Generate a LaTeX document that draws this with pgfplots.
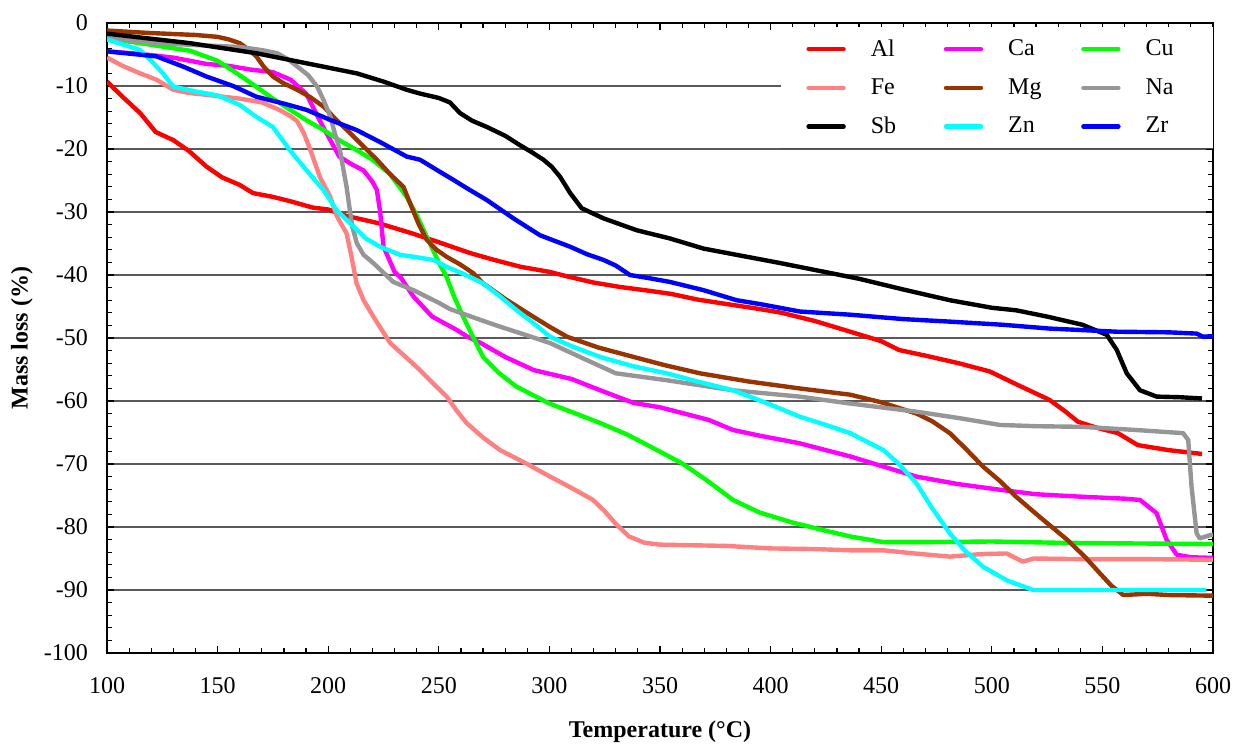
\documentclass[border=0pt]{standalone}
\usepackage{pgfplots}
\pgfplotsset{compat=1.18}
\usepackage{fontspec}
\setmainfont{Liberation Serif}
\definecolor{cAl}{RGB}{255,0,0}
\definecolor{cFe}{RGB}{255,128,128}
\definecolor{cSb}{RGB}{0,0,0}
\definecolor{cCa}{RGB}{255,0,255}
\definecolor{cMg}{RGB}{153,51,0}
\definecolor{cZn}{RGB}{0,255,255}
\definecolor{cCu}{RGB}{0,255,0}
\definecolor{cNa}{RGB}{150,150,150}
\definecolor{cZr}{RGB}{0,0,255}
\newcommand{\tf}{\fontsize{12}{14}\selectfont}
\newcommand{\legent}[2]{\hspace*{12.5pt}\makebox[#1][l]{#2}}
\begin{document}
\begin{tikzpicture}
\begin{axis}[
  at={(0,0)}, anchor=south west,
  width=553pt, height=315pt, scale only axis,
  xmin=100, xmax=600, ymin=-100, ymax=0,
  xtick={100,150,...,600}, ytick={-100,-90,...,0},
  xticklabels={{\tf 100},{\tf 150},{\tf 200},{\tf 250},{\tf 300},{\tf 350},{\tf 400},{\tf 450},{\tf 500},{\tf 550},{\tf 600}},
  yticklabels={{\tf -100},{\tf -90},{\tf -80},{\tf -70},{\tf -60},{\tf -50},{\tf -40},{\tf -30},{\tf -20},{\tf -10},{\tf 0}},
  minor x tick num=4, minor y tick num=4,
  tick align=inside,
  major tick length=3.5pt, minor tick length=2.5pt,
  every tick/.style={black, line width=0.6pt},
  ymajorgrids,
  major grid style={black!65, line width=0.7pt},
  axis line style={line width=0.8pt},
  xticklabel style={yshift=-8.5pt},
  yticklabel style={xshift=-6pt},
  xlabel={\tf\bfseries Temperature (°C)},
  ylabel={\tf\bfseries Mass loss (\%)},
  every axis x label/.style={at={(axis description cs:0.5,-0.125)}, anchor=center},
  every axis y label/.style={at={(axis description cs:-0.077,0.5)}, rotate=90, anchor=center},
  legend columns=3,
  legend cell align=left,
  legend image code/.code={\draw[#1, line cap=round] (0pt,0pt) -- (17.5pt,0pt);},
  legend style={at={(1,1)}, anchor=north east, yshift=-2pt, draw=none, fill=white,
    font=\tf, inner xsep=12.5pt, inner ysep=6pt,
    nodes={inner sep=0pt},
    row sep=9.75pt, column sep=0pt,
    append after command={(\tikzlastnode.south west) edge[draw=black!70, line width=0.6pt] (\tikzlastnode.south east)}},
  every axis plot/.append style={line width=2.2pt, line join=round},
]
\addplot[cAl] coordinates {
(100,-9.3)(107,-11.7)(115,-14.3)(122,-17.3)(130,-18.6)(137,-20.3)(145,-22.8)(152,-24.5)(160,-25.7)(166,-27.0)(175,-27.6)(183,-28.3)(193,-29.3)(200,-29.6)(208,-30.6)(223,-31.8)(238,-33.4)(250,-34.8)(264,-36.5)(275,-37.6)(287,-38.7)(300,-39.5)(309,-40.3)(320,-41.2)(332,-41.9)(345,-42.5)(355,-43.0)(367,-43.9)(380,-44.6)(395,-45.4)(405,-46.0)(420,-47.3)(436,-49.0)(450,-50.5)(458,-51.9)(470,-52.8)(485,-54.0)(499,-55.3)(512,-57.5)(526,-59.8)(533,-61.6)(539,-63.3)(548,-64.3)(557,-65.1)(566,-67.0)(580,-67.8)(590,-68.2)(595,-68.4)};
\addlegendentry{\legent{36.5pt}{Al}}
\addplot[cCa] coordinates {
(100,-4.5)(115,-4.9)(130,-5.5)(145,-6.5)(155,-6.8)(165,-7.4)(175,-7.8)(183,-9.0)(190,-11.2)(197.7,-16.5)(205,-21.2)(211,-22.5)(216,-23.4)(220,-25.2)(222,-26.5)(223.5,-30)(225,-35.5)(230,-39.5)(233,-40.5)(238.5,-43.4)(247,-46.6)(258,-48.7)(263,-49.8)(269,-50.8)(280,-53)(293,-55.1)(310,-56.5)(323,-58.3)(338,-60.3)(350,-61)(360,-61.9)(372,-63)(383,-64.6)(395,-65.5)(413,-66.7)(425,-67.8)(436,-68.8)(450,-70.3)(466,-72)(485,-73.2)(504,-74.1)(520,-74.8)(541,-75.2)(560,-75.5)(567,-75.7)(574.5,-77.8)(579,-82)(583.6,-84.4)(590,-84.8)(600,-84.9)};
\addlegendentry{\legent{36.5pt}{Ca}}
\addplot[cCu] coordinates {
(100,-2.5)(115,-3.2)(130,-4)(137.5,-4.4)(150,-6)(160,-8.3)(167,-10)(175,-12)(182,-13.6)(190,-15.4)(198,-17)(205,-18.6)(213,-20.2)(220,-21.7)(228,-24)(235.5,-27.6)(240,-30.5)(244.5,-33.9)(250,-38)(253.5,-40.3)(257,-43.5)(261,-46.6)(265,-49.5)(270,-53)(277,-55.5)(285,-57.7)(300,-60.4)(312,-62)(323,-63.5)(335,-65.3)(346,-67.3)(360,-69.9)(372,-72.8)(383,-75.7)(395,-77.7)(410,-79.3)(425,-80.6)(436,-81.5)(451,-82.4)(470,-82.4)(500,-82.3)(530,-82.5)(560,-82.6)(600,-82.7)};
\addlegendentry{\legent{21pt}{Cu}}
\addplot[cFe] coordinates {
(100,-5.5)(107,-6.8)(115,-8)(122.4,-9)(130,-10.6)(137,-11.1)(145,-11.4)(160,-12)(170,-12.6)(178,-13.8)(183,-14.8)(186,-15.6)(189,-17.5)(192,-20.2)(196.3,-24.5)(200.8,-27.5)(204,-30.7)(208.3,-33.4)(210.5,-37)(212.8,-41.3)(216,-44)(220.4,-46.6)(228,-50.8)(235,-53)(241.5,-55.1)(247.4,-57.2)(253.6,-59.3)(258,-61.5)(262.6,-63.5)(270,-65.8)(277.7,-67.8)(290,-70)(300.3,-72)(310,-73.8)(319.7,-75.7)(325,-77.5)(330,-79.5)(336,-81.5)(343,-82.5)(350,-82.8)(380,-83)(400,-83.4)(420,-83.5)(436,-83.7)(451,-83.7)(465,-84.2)(481,-84.7)(495,-84.3)(506.7,-84.2)(514,-85.5)(519,-85)(540,-85.1)(570,-85.1)(600,-85.2)};
\addlegendentry{\legent{36.5pt}{Fe}}
\addplot[cMg] coordinates {
(100,-1.2)(120,-1.6)(140,-1.9)(150,-2.2)(155,-2.6)(160,-3.2)(164,-4.2)(167.5,-5.3)(171,-7)(175,-8.5)(180,-9.6)(186,-10.6)(192,-11.8)(198,-13.3)(204,-15.5)(210,-17.5)(216,-19.6)(222,-21.7)(228,-24)(234,-26)(237,-28.6)(241,-32)(244.5,-34.4)(249,-36)(253.5,-37.1)(260,-38.4)(265.5,-39.7)(270,-41.3)(280,-43.8)(292.6,-46.6)(300,-48.2)(308,-49.8)(322,-51.5)(338,-53)(352,-54.3)(368,-55.6)(390,-56.9)(413,-58)(436,-59)(450,-60.2)(466,-62)(473,-63.2)(481,-65.1)(488,-67.5)(496,-70.4)(504,-72.8)(511,-75.2)(522,-78.5)(534,-82)(542,-84.7)(549,-87.4)(554,-89.3)(559.5,-90.8)(570,-90.6)(580,-90.8)(600,-90.9)};
\addlegendentry{\legent{36.5pt}{Mg}}
\addplot[cNa] coordinates {
(100,-2.4)(122,-3.2)(140,-3.5)(160,-3.8)(170,-4.3)(177,-4.8)(182,-5.8)(186,-6.9)(191,-8.3)(195,-10.1)(198,-12.3)(201,-14.9)(203,-17.5)(205.3,-20.2)(207,-23.5)(208.3,-26)(209.9,-30)(211,-32.5)(213,-35)(216,-36.8)(220.4,-38.1)(229.4,-41.1)(238.5,-42.4)(250.5,-44.5)(255,-45.4)(268.6,-47.1)(277.7,-48.2)(290,-49.6)(300.3,-50.8)(315,-53.2)(330,-55.6)(353,-56.7)(383,-58.3)(413,-59.3)(436,-60.4)(466,-61.7)(485,-62.7)(503.7,-63.8)(520,-64)(541,-64.1)(565,-64.6)(586.5,-65.1)(588.8,-66.2)(590.3,-73.6)(592.6,-81)(594,-81.8)(598.6,-81.3)(600,-81.2)};
\addlegendentry{\legent{21pt}{Na}}
\addplot[cSb] coordinates {
(100,-1.7)(137.5,-3.2)(167.5,-4.8)(190.3,-6.4)(213,-8)(225,-9.3)(235.5,-10.6)(241.5,-11.2)(250,-11.9)(255,-12.6)(259.6,-14.3)(265,-15.5)(271.7,-16.5)(280,-17.9)(286.7,-19.4)(292,-20.5)(297.3,-21.7)(301,-22.8)(304.8,-24.4)(309.4,-27)(314.6,-29.4)(324.4,-31)(339.5,-32.9)(354.5,-34.2)(369.6,-35.8)(384.6,-36.8)(404.3,-38.1)(420,-39.2)(440,-40.6)(460,-42.3)(481,-44)(500,-45.2)(511,-45.6)(525,-46.6)(541,-47.9)(552,-49.5)(556.5,-51.9)(561,-55.6)(567,-58.3)(574.5,-59.3)(585,-59.4)(595,-59.6)};
\addlegendentry{\legent{36.5pt}{Sb}}
\addplot[cZn] coordinates {
(100,-2.6)(108,-3.5)(115,-4.3)(120,-6)(125.3,-8)(130,-10.1)(140.5,-10.9)(150,-11.5)(160,-13)(167.5,-14.9)(175,-16.5)(182.7,-20.2)(190,-23.3)(197.8,-26.5)(203.8,-29.7)(211.4,-32.3)(217,-34.2)(223.4,-35.5)(232.5,-36.8)(238.5,-37.1)(247.6,-37.6)(253.5,-38.7)(261,-39.8)(270,-41.3)(278,-43.5)(285.2,-45.6)(293,-47.7)(300.3,-49.8)(310,-51.3)(322.9,-53)(338,-54.5)(353,-55.6)(368,-57)(383,-58.3)(398,-60.3)(413.3,-62.5)(425,-63.8)(436,-65.1)(451,-67.8)(458,-70)(466,-73.1)(473,-77)(481,-81)(488,-83.8)(496,-86.3)(507,-88.5)(518.8,-90)(541,-90)(570,-90)(597,-90)};
\addlegendentry{\legent{36.5pt}{Zn}}
\addplot[cZr] coordinates {
(100,-4.5)(122.4,-5.3)(135,-7)(145,-8.5)(157,-10)(167.5,-11.7)(180,-12.8)(190.3,-13.8)(201,-15.4)(212.9,-17)(224,-19)(235.5,-21.2)(241.5,-21.7)(249,-23.3)(256.6,-24.9)(264,-26.5)(271.7,-28.1)(283.7,-31)(295.8,-33.7)(309.3,-35.5)(317,-36.7)(324.4,-37.6)(330,-38.5)(336.4,-40)(345,-40.5)(354.5,-41.1)(369.6,-42.4)(384.6,-44)(395,-44.6)(413.3,-45.8)(436,-46.3)(460,-47)(481,-47.4)(505,-47.9)(526,-48.5)(556.5,-49)(580,-49.1)(592.6,-49.3)(595.5,-49.8)(600,-49.7)};
\addlegendentry{\legent{21pt}{Zr}}
\end{axis}
\pgfresetboundingbox
\path (-53.5pt,-46.5pt) rectangle (564pt,326.5pt);
\end{tikzpicture}
\end{document}
